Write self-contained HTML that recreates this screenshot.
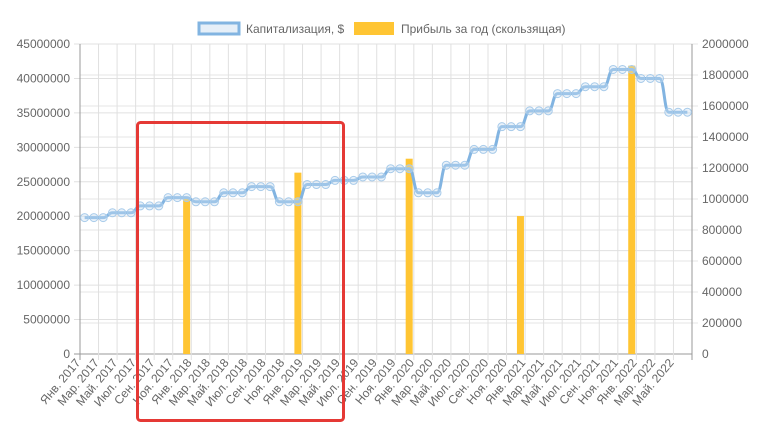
<!DOCTYPE html>
<html><head><meta charset="utf-8"><style>
html,body{margin:0;padding:0;background:#fff;width:767px;height:445px;overflow:hidden}
svg{display:block;font-family:"Liberation Sans",sans-serif}
</style></head><body>
<svg id="c" width="767" height="445" xmlns="http://www.w3.org/2000/svg"></svg>
<script>
const svg=document.getElementById('c');let h='';
const L=80,R=692,T=44,B=354;
const yL=v=>B-(v/45e6)*(B-T), yR=v=>B-(v/2e6)*(B-T);
const s=(R-L)/66, px=i=>L+s*(i+0.5);
for(let k=1;k<=10;k++){const y=yR(k*2e5);h+=`<line x1="${L}" x2="${R+6}" y1="${y}" y2="${y}" stroke="#e6e6e6"/><text x="${R+10}" y="${y+4}" font-size="12" fill="#666">${k*200000}</text>`;}
h+=`<text x="${R+10}" y="${B+4}" font-size="12" fill="#666">0</text>`;
for(let k=0;k<=9;k++){const y=yL(k*5e6);h+=`<line x1="${L-6}" x2="${R}" y1="${y}" y2="${y}" stroke="${k==0?'#999':'#e0e0e0'}"/>`;
h+=`<text x="${L-10}" y="${y+4}" text-anchor="end" font-size="12" fill="#666">${k*5000000}</text>`;}
const mn=['Янв.','Мар.','Май.','Июл.','Сен.','Ноя.'];
for(let k=0;k<=33;k++){const x=L+k*2*s;h+=`<line x1="${x}" x2="${x}" y1="${T}" y2="${B+6}" stroke="${k==0||k==33?'#999':'#e0e0e0'}"/>`;}
for(let k=0;k<33;k++){const x=L+k*2*s+1;const y=B+9;h+=`<text transform="translate(${x},${y}) rotate(-50)" text-anchor="end" font-size="12" fill="#666">${mn[k%6]} ${2017+Math.floor(k/6)}</text>`;}
[[11,1.0e6],[23,1.17e6],[35,1.26e6],[47,0.89e6],[59,1.86e6]].forEach(([i,v])=>{h+=`<rect x="${px(i)-3.5}" y="${yR(v)}" width="7" height="${B-yR(v)}" fill="#ffc533"/>`;});
const g=[19.8,20.5,21.5,22.7,22.1,23.4,24.3,22.1,24.6,25.2,25.7,26.9,23.4,27.4,29.7,33.0,35.3,37.8,38.8,41.3,40.0,35.1];
const d=[];g.forEach(v=>{d.push(v,v,v)});
let p=`M${px(0)},${yL(d[0]*1e6)}`;
for(let i=1;i<d.length;i++){const x0=px(i-1),x1=px(i),y0=yL(d[i-1]*1e6),y1=yL(d[i]*1e6),m=(x1-x0)*0.5;p+=` C${x0+m},${y0} ${x1-m},${y1} ${x1},${y1}`;}
h+=`<path d="${p}" fill="none" stroke="#82b4e1" stroke-width="3"/>`;
d.forEach((v,i)=>{h+=`<circle cx="${px(i)}" cy="${yL(v*1e6)}" r="4" fill="rgba(200,222,242,0.4)" stroke="#a8cbea" stroke-width="1"/>`;});
h+=`<rect x="199" y="23" width="40" height="11" fill="#e6eff8" stroke="#82b4e1" stroke-width="3"/><text x="246" y="33" font-size="12" fill="#666">Капитализация, $</text>`;
h+=`<rect x="354" y="22" width="40" height="13" fill="#ffc533"/><text x="401" y="33" font-size="12" fill="#666">Прибыль за год (скользящая)</text>`;
h+=`<rect x="137.5" y="122.5" width="206" height="298" rx="3" fill="none" stroke="#e53935" stroke-width="3"/>`;
svg.innerHTML=h;
</script>
</body></html>
